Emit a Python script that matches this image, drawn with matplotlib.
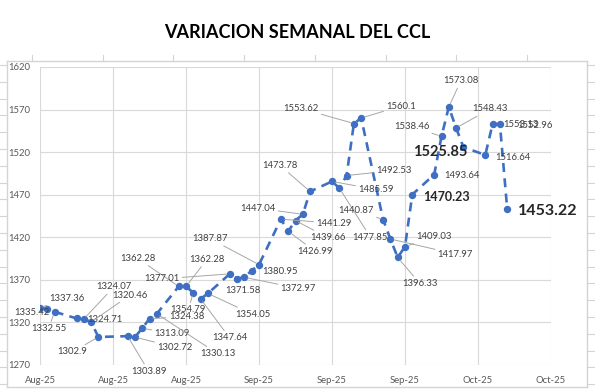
import matplotlib
matplotlib.use("Agg")
import matplotlib.pyplot as plt
import matplotlib.dates as mdates
from matplotlib.lines import Line2D
import pandas as pd

plt.rcParams['font.family'] = ['Lato', 'DejaVu Sans']

# daily CCL quotes (trading days, Aug-Oct 2025)
fechas = pd.to_datetime([
    '2025-08-06', '2025-08-07', '2025-08-08',
    '2025-08-11', '2025-08-12', '2025-08-13', '2025-08-14',
    '2025-08-18', '2025-08-19', '2025-08-20', '2025-08-21', '2025-08-22',
    '2025-08-25', '2025-08-26', '2025-08-27', '2025-08-28', '2025-08-29',
    '2025-09-01', '2025-09-02', '2025-09-03', '2025-09-04', '2025-09-05',
    '2025-09-08', '2025-09-09', '2025-09-10', '2025-09-11', '2025-09-12',
    '2025-09-15', '2025-09-16', '2025-09-17', '2025-09-18', '2025-09-19',
    '2025-09-22', '2025-09-23', '2025-09-24', '2025-09-25', '2025-09-26',
    '2025-09-29', '2025-09-30', '2025-10-01', '2025-10-02', '2025-10-03',
    '2025-10-06', '2025-10-07', '2025-10-08', '2025-10-09',
])
ccl = [
    1337.36, 1335.42, 1332.55,
    1324.71, 1324.07, 1320.46, 1302.9,
    1303.89, 1302.72, 1313.09, 1324.38, 1330.13,
    1362.28, 1362.28, 1354.79, 1347.64, 1354.05,
    1377.01, 1371.58, 1372.97, 1380.95, 1387.87,
    1441.29, 1426.99, 1439.66, 1447.04, 1473.78,
    1485.59, 1477.85, 1492.53, 1553.62, 1560.1,
    1440.87, 1417.97, 1396.33, 1409.03, 1470.23,
    1493.64, 1538.46, 1573.08, 1548.43, 1525.85,
    1516.64, 1553.13, 1552.96, 1453.22,
]

# label placement (pixel offsets from the point, leader line yes/no)
offsets = [
    (27, 9, 1), (-15, -3, 0), (-6, -17, 1),
    (28, -1, 0), (30, 32, 1), (39, 27, 1), (-26, -15, 1),
    (21, -35, 1), (40, -10, 1), (30, -5, 1), (37, 2, 1), (61, -40, 1),
    (-41, 28, 1), (21, 27, 1), (-5, -17, 1), (29, -39, 1), (45, -21, 1),
    (-68, -5, 1), (6, -12, 0), (54, -11, 1), (28, -1, 0), (-49, 26, 1),
    (53, -4, 1), (27, -20, 1), (32, -17, 1), (-45, 6, 1), (-30, 26, 1),
    (44, -8, 1), (31, -49, 1), (47, 5, 1), (-53, 15, 1), (40, 12, 1),
    (-27, 9, 1), (65, -15, 1), (22, -26, 1), (29, 10, 1), (34, -2, 0),
    (28, -1, 0), (-30, 10, 1), (12, 26, 1), (34, 19, 1), (-23, -5, 0),
    (28, -2, 0), (28, -1, 0), (35, -1, 0), (41, -2, 0),
]
bold_size = {36: 9, 41: 10.5, 45: 11.5}

W, H = 595, 391
fig = plt.figure(figsize=(W / 100, H / 100), dpi=100)
ax = fig.add_axes([40 / W, 26 / H, 511 / W, 298 / H])

azul = '#3F6FC2'
ax.plot(fechas, ccl, color=azul, lw=1.9, linestyle=(0, (3.4, 2.4)),
        marker='o', markersize=4.3, zorder=3)

for i, (d, v) in enumerate(zip(fechas, ccl)):
    dx, dy, lead = offsets[i]
    kw = dict(fontsize=6.8, color='#404040')
    if i in bold_size:
        kw = dict(fontsize=bold_size[i], color='#262626', fontweight='bold')
    arrow = None
    if lead:
        arrow = dict(arrowstyle='-', color='#a6a6a6', lw=0.7,
                     shrinkA=0, shrinkB=2.5)
    ax.annotate(str(v), (d, v), xytext=(dx, dy), textcoords='offset pixels',
                ha='center', va='center', arrowprops=arrow, zorder=4, **kw)

ax.set_ylim(1270, 1620)
ax.set_yticks(range(1270, 1621, 50))
ax.set_xlim(pd.Timestamp('2025-08-06'), pd.Timestamp('2025-10-15'))
ax.set_xticks(pd.date_range('2025-08-06', '2025-10-15', freq='10D'))
ax.xaxis.set_major_formatter(mdates.DateFormatter('%b-%y'))
ax.grid(True, color='#d9d9d9', lw=0.8)
ax.set_axisbelow(True)
for s in ax.spines.values():
    s.set_visible(False)
ax.tick_params(length=0, labelsize=6.8, labelcolor='#595959')
ax.tick_params(axis='y', pad=7)
ax.tick_params(axis='x', pad=8)

fig.text(0.5, 1 - 33 / H, 'VARIACION SEMANAL DEL CCL', ha='center',
         va='center', fontsize=13, fontweight='bold', color='black')

# worksheet frame around the chart
def px(x, y):
    return x / W, 1 - y / H

gris = '#d4d4d4'
for (x0, y0), (x1, y1) in [((7, 61), (587, 61)), ((7, 61), (7, 387)),
                           ((587, 61), (587, 387)), ((7, 387), (587, 387))]:
    fig.add_artist(Line2D(*zip(px(x0, y0), px(x1, y1)), color=gris, lw=1))
for k in range(8):
    x = 32 + k * 70.7
    fig.add_artist(Line2D(*zip(px(x, 55), px(x, 61)), color=gris, lw=0.8))
for k in range(20):
    y = 65 + k * 16.8
    if y > 387:
        break
    fig.add_artist(Line2D(*zip(px(0, y), px(7, y)), color=gris, lw=0.8))
    fig.add_artist(Line2D(*zip(px(587, y), px(595, y)), color=gris, lw=0.8))

fig.savefig('out.png', dpi=100)
